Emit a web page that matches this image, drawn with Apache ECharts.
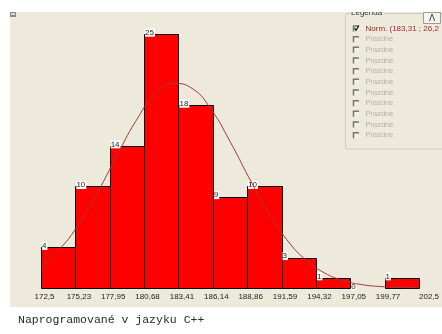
<!DOCTYPE html>
<html>
<head>
<meta charset="utf-8">
<script src="https://cdn.jsdelivr.net/npm/echarts@6/dist/echarts.min.js"></script>
<style>
  html, body { margin: 0; padding: 0; background: #ffffff; }
  #chart { width: 442px; height: 334px; }
</style>
</head>
<body>
<div id="chart"></div>
<script>
// Bin edges (as printed under the histogram) and the count in each bin
const tickLabels = ['172,5', '175,23', '177,95', '180,68', '183,41', '186,14',
                    '188,86', '191,59', '194,32', '197,05', '199,77', '202,5'];
const counts = [4, 10, 14, 25, 18, 9, 10, 3, 1, 0, 1];

// Fitted normal curve, sampled along the x range
const curveX = [172.5, 174, 175.5, 177, 178.5, 180, 181.5, 183, 184.5, 186, 187.5,
                189, 190.5, 192, 193.5, 195, 196.5, 198, 199.5, 201, 202.5];
const curveY = [2.17, 3.86, 6.30, 9.44, 12.98, 16.38, 18.97, 20.15, 19.65, 17.59, 14.44,
                10.88, 7.53, 4.78, 2.78, 1.49, 0.73, 0.33, 0.14, 0.05, 0.02];

// Legend panel texts
const legendTitle = 'Legenda';
const normLabel = 'Norm. (183,31 ; 26,2';
const emptyLabel = 'Prazdne';
const emptySlots = 10;
const footerText = 'Naprogramované v jazyku C++';

const edges = tickLabels.map(s => parseFloat(s.replace(',', '.')));
const binData = counts.map((c, i) => [edges[i], edges[i + 1], c]);
const curveData = curveX.map((x, i) => [x, curveY[i]]);

const FONT = 'Liberation Sans';
const MONO = 'Liberation Mono';
const PANEL = '#EDEADB';

// Legend group box drawn as graphic elements
const legendEls = [];
const rowY0 = 28.5, rowStep = 10.67;
function checkbox(cy, checked) {
  const els = [
    { type: 'rect', shape: { x: 353, y: cy - 3, width: 5.5, height: 5.5 },
      style: { fill: '#F3F1E6' }, z: 101 },
    { type: 'polyline', shape: { points: [[353.5, cy + 3], [353.5, cy - 2.5], [359, cy - 2.5]] },
      style: { stroke: '#76766f', lineWidth: 1.5, fill: null }, z: 102 }
  ];
  if (checked) {
    els.push({ type: 'polyline', shape: { points: [[354.5, cy - 0.5], [356, cy + 1.8], [358.8, cy - 2.8]] },
      style: { stroke: '#1a1a1a', lineWidth: 1.3, fill: null }, z: 103 });
  }
  return els;
}
legendEls.push(...checkbox(rowY0, true));
legendEls.push({ type: 'text', x: 365.5, y: rowY0, z: 102,
  style: { text: normLabel, fontFamily: FONT, fontSize: 8, fill: '#A8282D', verticalAlign: 'middle', align: 'left' } });
for (let k = 1; k <= emptySlots; k++) {
  const cy = rowY0 + k * rowStep;
  legendEls.push(...checkbox(cy, false));
  legendEls.push({ type: 'text', x: 365.5, y: cy, z: 102,
    style: { text: emptyLabel, fontFamily: FONT, fontSize: 7.5, fill: '#B2B0A5', verticalAlign: 'middle', align: 'left' } });
}

const chart = echarts.init(document.getElementById('chart'), null, { renderer: 'canvas' });
chart.setOption({
  animation: false,
  backgroundColor: '#ffffff',
  grid: { left: 41, right: 19, top: 24, bottom: 46 },
  xAxis: {
    type: 'value',
    min: edges[0],
    max: edges[edges.length - 1],
    axisLine: { show: false },
    axisTick: { show: false },
    splitLine: { show: false },
    axisLabel: {
      customValues: edges,
      margin: 5,
      alignMaxLabel: 'left',
      formatter: function (v) {
        let idx = 0, best = Infinity;
        edges.forEach((e, i) => { const d = Math.abs(e - v); if (d < best) { best = d; idx = i; } });
        return (idx === edges.length - 1 ? '{e|' : '{n|') + tickLabels[idx] + '}';
      },
      rich: {
        n: { fontFamily: FONT, fontSize: 8, color: '#222222', padding: [0, 0, 0, 7] },
        e: { fontFamily: FONT, fontSize: 8, color: '#222222' }
      }
    }
  },
  yAxis: { type: 'value', min: 0, max: 26, show: false },
  graphic: [
    { type: 'rect', z: -10, shape: { x: 10, y: 12, width: 432, height: 295 }, style: { fill: PANEL } },
    // small window icon in the corner
    { type: 'rect', z: 100, shape: { x: 10, y: 12, width: 6, height: 5 }, style: { fill: '#8c8c86' } },
    { type: 'rect', z: 101, shape: { x: 11, y: 13, width: 4, height: 2 }, style: { fill: '#d8d6cc' } },
    // footer caption under the panel
    { type: 'text', x: 18, y: 320, z: 100,
      style: { text: footerText, fontFamily: MONO, fontSize: 11.5, fill: '#2a2a2a',
               align: 'left', verticalAlign: 'middle' } },
    // legend frame
    { type: 'rect', z: 100, shape: { x: 345.5, y: 13.5, width: 110, height: 135.5, r: 2 },
      style: { fill: PANEL, stroke: '#CDCBBE', lineWidth: 1 } },
    { type: 'text', x: 350, y: 13, z: 101,
      style: { text: legendTitle, fontFamily: FONT, fontSize: 8, fill: '#333333', verticalAlign: 'middle',
               align: 'left', backgroundColor: PANEL, padding: [0, 2, 0, 1] } },
    // white strip above the panel
    { type: 'rect', z: 104, shape: { x: 300, y: 0, width: 142, height: 12 }, style: { fill: '#ffffff' } },
    // collapse button
    { type: 'rect', z: 105, shape: { x: 423.5, y: 12.5, width: 17, height: 11 },
      style: { fill: '#F5F4EF', stroke: '#9c9c96', lineWidth: 1 } },
    { type: 'text', x: 432, y: 18.5, z: 106,
      style: { text: 'Λ', fontFamily: 'DejaVu Sans', fontSize: 9, fill: '#333333', align: 'center', verticalAlign: 'middle' } },
    ...legendEls
  ],
  series: [
    {
      type: 'custom',
      name: 'bins',
      data: binData,
      encode: { x: [0, 1], y: 2 },
      z: 2,
      renderItem: function (params, api) {
        const x0 = api.value(0), x1 = api.value(1), v = api.value(2);
        const tl = api.coord([x0, v]);
        const br = api.coord([x1, 0]);
        const children = [];
        if (v > 0) {
          const lx = Math.round(tl[0]), rx = Math.round(br[0]);
          const ty = Math.round(tl[1]), by = Math.round(br[1]);
          children.push({ type: 'rect',
            shape: { x: lx + 0.5, y: ty + 0.5, width: rx - lx, height: by - ty },
            style: { fill: '#FF0000', stroke: '#000000', lineWidth: 1 } });
        }
        children.push({ type: 'text', x: tl[0] + 1, y: tl[1] + 2.5, z2: 20,
          style: { text: String(v), fontFamily: FONT, fontSize: 8, fill: '#222222', align: 'left',
                   verticalAlign: 'bottom', backgroundColor: '#ffffff', padding: [0, 1, 0, 0] } });
        return { type: 'group', children: children };
      }
    },
    {
      type: 'line',
      name: normLabel,
      data: curveData,
      smooth: true,
      symbol: 'none',
      z: 3,
      lineStyle: { color: '#A8373A', width: 1 },
      itemStyle: { color: '#A8373A' }
    }
  ]
});
</script>
</body>
</html>
